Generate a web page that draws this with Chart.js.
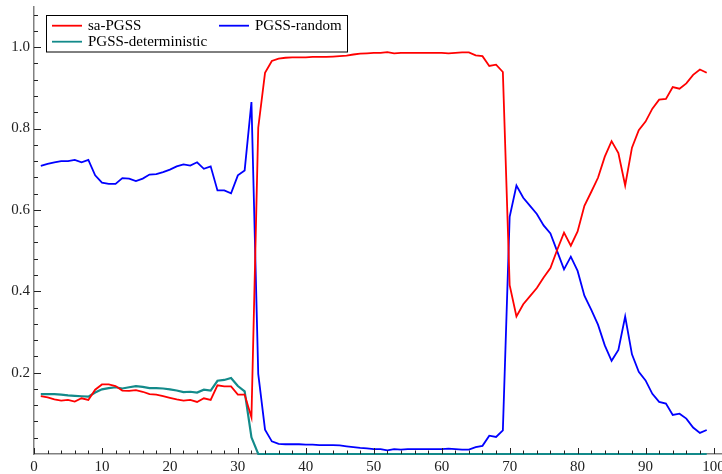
<!DOCTYPE html>
<html>
<head>
<meta charset="utf-8">
<script src="https://cdn.jsdelivr.net/npm/chart.js@4.4.0/dist/chart.umd.min.js"></script>
<style>
    html, body { margin: 0; padding: 0; background: #fff; overflow: hidden; }
    #wrap { width: 722px; height: 474px; overflow: hidden; }
</style>
</head>
<body>
<div id="wrap"><canvas id="lineChart" width="740" height="474"></canvas></div>
<script>
// values, one per step 1..99
let saPGSS = [
    0.142, 0.139, 0.134, 0.131, 0.133, 0.129, 0.137, 0.133, 0.158, 0.171,
    0.171, 0.167, 0.156, 0.155, 0.157, 0.153, 0.147, 0.146, 0.142, 0.138,
    0.134, 0.131, 0.133, 0.128, 0.137, 0.133, 0.169, 0.166, 0.166, 0.146,
    0.146, 0.090, 0.802, 0.937, 0.966, 0.972, 0.974, 0.975, 0.975, 0.975,
    0.976, 0.976, 0.976, 0.977, 0.978, 0.979, 0.982, 0.984, 0.985, 0.986,
    0.986, 0.988, 0.985, 0.986, 0.986, 0.986, 0.986, 0.986, 0.986, 0.986,
    0.985, 0.986, 0.987, 0.987, 0.980, 0.978, 0.954, 0.957, 0.939, 0.415,
    0.338, 0.368, 0.388, 0.408, 0.434, 0.457, 0.502, 0.544, 0.512, 0.547,
    0.610, 0.644, 0.679, 0.731, 0.769, 0.740, 0.660, 0.753, 0.796, 0.817,
    0.849, 0.871, 0.873, 0.902, 0.898, 0.911, 0.932, 0.945, 0.937
];
let pgssRandom = [
    0.708, 0.713, 0.717, 0.720, 0.720, 0.723, 0.717, 0.723, 0.685, 0.667,
    0.664, 0.664, 0.678, 0.677, 0.671, 0.677, 0.687, 0.688, 0.693, 0.699,
    0.707, 0.712, 0.709, 0.717, 0.701, 0.707, 0.648, 0.648, 0.641, 0.685,
    0.697, 0.865, 0.197, 0.060, 0.031, 0.025, 0.024, 0.024, 0.024, 0.023,
    0.023, 0.022, 0.022, 0.022, 0.021, 0.019, 0.017, 0.015, 0.014, 0.012,
    0.012, 0.009, 0.012, 0.011, 0.012, 0.012, 0.012, 0.012, 0.012, 0.012,
    0.013, 0.012, 0.011, 0.011, 0.017, 0.020, 0.045, 0.042, 0.058, 0.583,
    0.660, 0.630, 0.610, 0.590, 0.562, 0.542, 0.498, 0.454, 0.485, 0.450,
    0.389, 0.355, 0.318, 0.267, 0.229, 0.256, 0.338, 0.245, 0.202, 0.181,
    0.148, 0.128, 0.124, 0.096, 0.099, 0.087, 0.065, 0.052, 0.059
];
let pgssDeterministic = [
    0.147, 0.147, 0.147, 0.146, 0.144, 0.143, 0.142, 0.141, 0.151, 0.159,
    0.162, 0.164, 0.161, 0.164, 0.167, 0.165, 0.162, 0.162, 0.161, 0.159,
    0.156, 0.152, 0.153, 0.151, 0.158, 0.156, 0.180, 0.182, 0.187, 0.167,
    0.154, 0.041, 0, 0, 0, 0, 0, 0, 0, 0,
    0, 0, 0, 0, 0, 0, 0, 0, 0, 0,
    0, 0, 0, 0, 0, 0, 0, 0, 0, 0,
    0, 0, 0, 0, 0, 0, 0, 0, 0, 0,
    0, 0, 0, 0, 0, 0, 0, 0, 0, 0,
    0, 0, 0, 0, 0, 0, 0, 0, 0, 0,
    0, 0, 0, 0, 0, 0, 0, 0, 0
];
let xTicks = [0, 10, 20, 30, 40, 50, 60, 70, 80, 90, 100];
let yTicks = [0.2, 0.4, 0.6, 0.8, 1.0];
let seriesNames = ["sa-PGSS", "PGSS-random", "PGSS-deterministic"];

let RED = "#ff0000", BLUE = "#0000ff", TEAL = "#138a8a";
let FONT = "Liberation Serif";

function toPoints(values) {
    return values.map(function (v, i) { return { x: i + 1, y: v }; });
}

// inward tick marks (major + minor) and the boxed legend, Mathematica style
let axisDecor = {
    id: "axisDecor",
    afterDatasetsDraw: function (chart) {
        let ctx = chart.ctx;
        let area = chart.chartArea;
        let xs = chart.scales.x, ys = chart.scales.y;
        ctx.save();
        ctx.strokeStyle = "#222";
        ctx.lineWidth = 1;
        ctx.beginPath();
        for (let v = 0; v <= 100; v += 2) {
            let px = Math.round(xs.getPixelForValue(v)) + 0.5;
            let len = (v % 10 === 0) ? 6 : 3.5;
            ctx.moveTo(px, area.bottom);
            ctx.lineTo(px, area.bottom - len);
        }
        for (let k = 1; k <= 27; k++) {
            let v = k * 0.04;
            let py = Math.round(ys.getPixelForValue(v)) + 0.5;
            let len = (k % 5 === 0) ? 7 : 4;
            ctx.moveTo(area.left, py);
            ctx.lineTo(area.left + len, py);
        }
        ctx.stroke();
        ctx.restore();
    },
    afterDraw: function (chart) {
        let ctx = chart.ctx;
        ctx.save();
        ctx.fillStyle = "#fff";
        ctx.fillRect(46.5, 15.5, 301, 36.5);
        ctx.strokeStyle = "#000";
        ctx.lineWidth = 1;
        ctx.strokeRect(46.5, 15.5, 301, 36.5);
        let entries = [
            { name: seriesNames[0], color: RED, x: 52, y: 25.7 },
            { name: seriesNames[1], color: BLUE, x: 219, y: 25.7 },
            { name: seriesNames[2], color: TEAL, x: 52, y: 41.7 }
        ];
        ctx.font = "15px '" + FONT + "'";
        ctx.textBaseline = "middle";
        ctx.textAlign = "left";
        entries.forEach(function (e) {
            ctx.strokeStyle = e.color;
            ctx.lineWidth = 1.8;
            ctx.beginPath();
            ctx.moveTo(e.x, e.y);
            ctx.lineTo(e.x + 30, e.y);
            ctx.stroke();
            ctx.fillStyle = "#000";
            ctx.fillText(e.name, e.x + 36, e.y + 0.8);
        });
        ctx.restore();
    }
};

function lineChart() {
    let ctx = document.getElementById("lineChart");
    new Chart(ctx, {
        type: "line",
        data: {
            datasets: [
                {
                    label: seriesNames[0],
                    data: toPoints(saPGSS),
                    borderColor: RED,
                    backgroundColor: RED,
                    borderWidth: 1.8,
                    pointRadius: 0,
                    fill: false,
                    clip: false
                },
                {
                    label: seriesNames[1],
                    data: toPoints(pgssRandom),
                    borderColor: BLUE,
                    backgroundColor: BLUE,
                    borderWidth: 1.8,
                    pointRadius: 0,
                    fill: false,
                    clip: false
                },
                {
                    label: seriesNames[2],
                    data: toPoints(pgssDeterministic),
                    borderColor: TEAL,
                    backgroundColor: TEAL,
                    borderWidth: 2.2,
                    pointRadius: 0,
                    fill: false,
                    clip: false
                }
            ]
        },
        options: {
            responsive: false,
            animation: false,
            devicePixelRatio: 1,
            layout: { padding: { left: 0, top: 6.5, right: 16.3, bottom: 0 } },
            plugins: {
                legend: { display: false },
                tooltip: { enabled: false }
            },
            scales: {
                x: {
                    type: "linear",
                    min: 0,
                    max: 101.5,
                    grid: { display: false, drawTicks: false },
                    border: { display: true, color: "#808080", width: 1.5 },
                    ticks: {
                        padding: 4,
                        color: "#222",
                        font: { family: FONT, size: 15 },
                        maxRotation: 0
                    },
                    afterBuildTicks: function (scale) {
                        scale.ticks = xTicks.map(function (v) { return { value: v }; });
                    },
                    afterFit: function (scale) {
                        scale.height = 20;
                        scale.paddingLeft = 0;
                        scale.paddingRight = 0;
                    }
                },
                y: {
                    min: 0,
                    max: 1.1,
                    grid: { display: false, drawTicks: false },
                    border: { display: true, color: "#808080", width: 1.5 },
                    ticks: {
                        padding: 4,
                        color: "#222",
                        font: { family: FONT, size: 15 },
                        callback: function (v) { return v.toFixed(1); }
                    },
                    afterBuildTicks: function (scale) {
                        scale.ticks = yTicks.map(function (v) { return { value: v }; });
                    },
                    afterFit: function (scale) {
                        scale.width = 34;
                        scale.paddingTop = 0;
                        scale.paddingBottom = 0;
                    }
                }
            }
        },
        plugins: [axisDecor]
    });
}

lineChart();
</script>
</body>
</html>
